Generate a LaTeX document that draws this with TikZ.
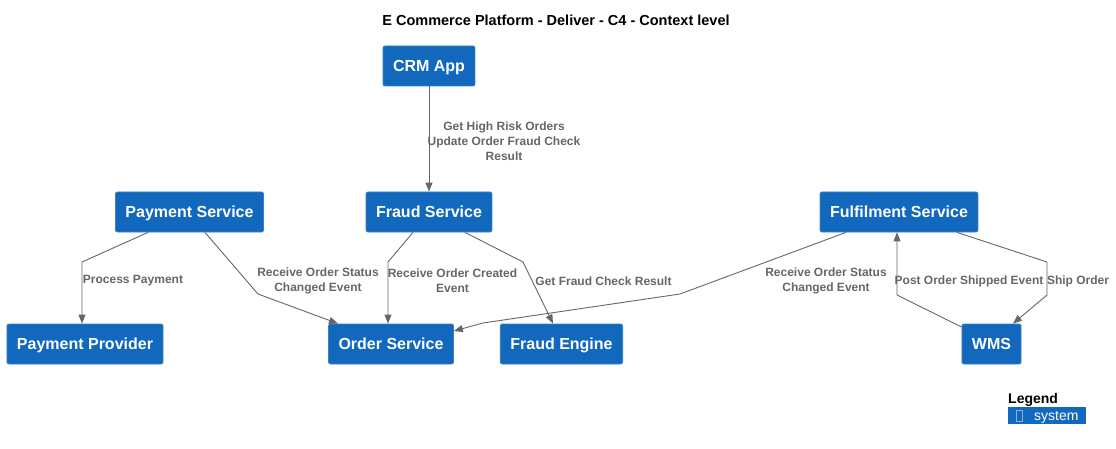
\documentclass[tikz,border=0pt]{standalone}
\usepackage{fontspec}
\setmainfont{Liberation Sans}
\usepackage{tikz}
\usetikzlibrary{arrows.meta,positioning,calc}
\definecolor{sysblue}{HTML}{1168BD}
\definecolor{sysedge}{HTML}{3C7FC0}
\definecolor{relgray}{HTML}{666666}

\begin{document}
\begin{tikzpicture}[x=1pt,y=-1pt, line join=round,
  system/.style={fill=sysblue, draw=sysedge, line width=0.8pt, rounded corners=2pt, text=white,
    font=\fontsize{16}{19}\selectfont\bfseries, minimum height=40pt, inner xsep=10pt,
    text height=11.5pt, text depth=0pt},
  rel/.style={draw=relgray, line width=0.9pt, -{Triangle[length=9pt,width=7pt]}},
  rellabel/.style={text=relgray, font=\fontsize{12}{15}\selectfont\bfseries, align=center, inner sep=0pt}]
\useasboundingbox (0,0) rectangle (1116,449);
\node[font=\fontsize{14.5}{17}\selectfont\bfseries] (title) at (556,20) {E Commerce Platform - Deliver - C4 - Context level};
% systems
\node[system] (crm)   at (429,66)    {CRM App};
\node[system] (pay)   at (189.5,212) {Payment Service};
\node[system] (fraud) at (429,212)   {Fraud Service};
\node[system] (ful)   at (899,212)   {Fulfilment Service};
\node[system] (pp)    at (85,344)    {Payment Provider};
\node[system] (ord)   at (391,344)   {Order Service};
\node[system] (eng)   at (561.5,344) {Fraud Engine};
\node[system] (wms)   at (991.5,344) {WMS};
% bend points
\coordinate (b1)  at (82,262);
\coordinate (b2)  at (258,294);
\coordinate (b3)  at (388,262);
\coordinate (b4)  at (523,262);
\coordinate (b5)  at (680,294);
\coordinate (b5a) at (483,323);
\coordinate (b6)  at (897,295);
\coordinate (b7a) at (1047,262);
\coordinate (b7b) at (1047,295);
% relations
\draw[rel] (crm) -- (fraud);
\draw[rel] ([xshift=-41.5pt]pay.south) -- (b1) -- (b1 |- pp.north);
\draw[rel] ([xshift=15.5pt]pay.south) -- (b2) -- ([xshift=-53pt]ord.north);
\draw[rel] ([xshift=-16pt]fraud.south) -- (b3) -- (b3 |- ord.north);
\draw[rel] ([xshift=36pt]fraud.south) -- (b4) -- ([xshift=-8.5pt]eng.north);
\draw[rel] ([xshift=-53pt]ful.south) -- (b5) -- (b5a) -- ([yshift=13pt]ord.east);
\draw[rel] ([yshift=17pt]wms.west) -- (b6) -- (b6 |- ful.south);
\draw[rel] ([xshift=58pt]ful.south) -- (b7a) -- (b7b) -- ([xshift=21.5pt]wms.north);
% labels
\node[rellabel] (l1) at (504,141.5) {Get High Risk Orders\\Update Order Fraud Check\\Result};
\node[rellabel] (l2) at (133,281) {Process Payment};
\node[rellabel] (l3) at (318,280.5) {Receive Order Status\\Changed Event};
\node[rellabel] (l4) at (452.5,280.5) {Receive Order Created\\Event};
\node[rellabel] (l5) at (603.5,281) {Get Fraud Check Result};
\node[rellabel] (l6) at (826,280.5) {Receive Order Status\\Changed Event};
\node[rellabel] (l7) at (969,281) {Post Order Shipped Event};
\node[rellabel] (l8) at (1078,281) {Ship Order};
% legend
\node[anchor=west, inner sep=0pt, font=\fontsize{14}{16}\selectfont\bfseries] (leg) at (1008,400) {Legend};
\fill[sysblue] (1008,407) rectangle (1086,424);
\draw[sysedge!60!white, line width=0.5pt] (1016,410) rectangle (1022,421);
\node[anchor=west, inner sep=0pt, text=white, font=\fontsize{14}{16}\selectfont] (legsys) at (1034,417) {system};
\end{tikzpicture}
\end{document}
